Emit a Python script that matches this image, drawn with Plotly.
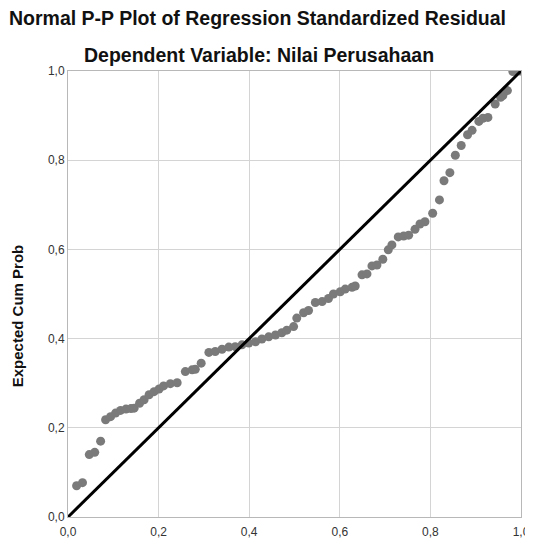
import plotly.graph_objects as go

observed_cum_prob = [
    0.019, 0.032, 0.047, 0.059, 0.072, 0.083, 0.094, 0.105, 0.116, 0.128,
    0.139, 0.146, 0.158, 0.168, 0.179, 0.190, 0.201, 0.211, 0.226, 0.241,
    0.259, 0.274, 0.281, 0.294, 0.311, 0.325, 0.340, 0.355, 0.369, 0.384,
    0.399, 0.414, 0.428, 0.443, 0.458, 0.472, 0.483, 0.498, 0.505, 0.520,
    0.531, 0.546, 0.561, 0.575, 0.586, 0.601, 0.612, 0.627, 0.634, 0.649,
    0.660, 0.671, 0.682, 0.695, 0.707, 0.715, 0.729, 0.741, 0.752, 0.766,
    0.777, 0.788, 0.805, 0.820, 0.830, 0.843, 0.855, 0.868, 0.882, 0.892,
    0.907, 0.916, 0.927, 0.943, 0.955, 0.960, 0.970, 0.982, 0.998,
]
expected_cum_prob = [
    0.070, 0.077, 0.140, 0.145, 0.170, 0.218, 0.225, 0.233, 0.239, 0.242,
    0.243, 0.244, 0.255, 0.263, 0.274, 0.281, 0.287, 0.294, 0.299, 0.301,
    0.326, 0.330, 0.331, 0.345, 0.369, 0.371, 0.376, 0.381, 0.382, 0.386,
    0.390, 0.393, 0.399, 0.404, 0.408, 0.413, 0.419, 0.427, 0.446, 0.458,
    0.463, 0.481, 0.483, 0.490, 0.500, 0.505, 0.511, 0.515, 0.518, 0.543,
    0.545, 0.563, 0.565, 0.578, 0.599, 0.610, 0.628, 0.630, 0.632, 0.645,
    0.657, 0.662, 0.681, 0.711, 0.754, 0.772, 0.811, 0.833, 0.857, 0.867,
    0.887, 0.894, 0.896, 0.926, 0.941, 0.945, 0.956, 0.999, 1.000,
]
diag_x = [0.0, 1.0]
diag_y = [0.0, 1.0]

tick_vals = [0.0, 0.2, 0.4, 0.6, 0.8, 1.0]
tick_text = ["0,0", "0,2", "0,4", "0,6", "0,8", "1,0"]

title_text = "Normal P-P Plot of Regression Standardized Residual"
subtitle_text = "Dependent Variable: Nilai Perusahaan"
y_title = "Expected Cum Prob"

FONT = "Liberation Sans, Arial, sans-serif"

fig = go.Figure()
fig.add_trace(go.Scatter(
    x=observed_cum_prob, y=expected_cum_prob, mode="markers",
    marker=dict(size=9, color="#7a7a7a", line=dict(width=0)),
    showlegend=False, hoverinfo="x+y",
))
fig.add_trace(go.Scatter(
    x=diag_x, y=diag_y, mode="lines",
    line=dict(color="#000000", width=3),
    showlegend=False, hoverinfo="skip",
))

axis_common = dict(
    range=[0, 1], tickvals=tick_vals, ticktext=tick_text,
    showgrid=True, gridcolor="#d4d4d4", gridwidth=1,
    showline=True, linecolor="#b8b8b8", linewidth=1, mirror=True,
    zeroline=False, automargin=False,
    tickfont=dict(family=FONT, size=12, color="#333333"),
    fixedrange=True,
)

# The page body adds an 8px offset, so the figure is sized to end at the window edges.
fig.update_layout(
    width=525, height=535,
    margin=dict(l=60, r=12, t=63, b=26, pad=0),
    paper_bgcolor="white", plot_bgcolor="white",
    xaxis=dict(**axis_common, ticks="outside", ticklen=4, tickcolor="rgba(0,0,0,0)"),
    yaxis=dict(**axis_common, ticks="", ticklen=0),
    annotations=[
        dict(text=title_text, xref="paper", yref="paper", x=0.418, y=1.0,
             xanchor="center", yanchor="middle", yshift=53, showarrow=False,
             font=dict(family=FONT, size=19.5, color="#111111", weight="bold")),
        dict(text=subtitle_text, xref="paper", yref="paper", x=0.421, y=1.0,
             xanchor="center", yanchor="middle", yshift=16, showarrow=False,
             font=dict(family=FONT, size=19.5, color="#111111", weight="bold")),
        dict(text=y_title, xref="paper", yref="paper", x=-0.1106, y=0.452,
             xanchor="center", yanchor="middle", textangle=-90, showarrow=False,
             font=dict(family=FONT, size=15, color="#111111", weight="bold")),
    ],
)

fig.write_html("out.html")
